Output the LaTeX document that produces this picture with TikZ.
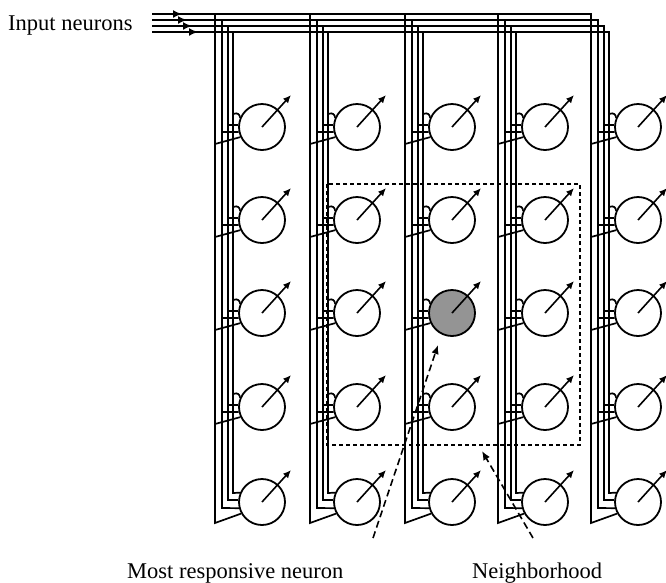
\documentclass[tikz,border=0pt]{standalone}
\usepackage{fontspec}
\setmainfont{Liberation Serif}
\usetikzlibrary{calc,arrows.meta}

\begin{document}
\begin{tikzpicture}[x=1pt,y=-1pt,
  wire/.style={line width=1.7pt},
  neuron/.style={circle,draw,line width=1.8pt,minimum size=46pt,inner sep=0pt},
  n33/.style={fill=black!42},
  outarrow/.style={line width=1.6pt,-{Latex[length=8pt,width=7pt]}},
  intip/.style={line width=1.7pt,-{Latex[length=9pt,width=8pt]}},
  marker/.style={line width=1.5pt,dash pattern=on 4pt off 3pt},
  markarrow/.style={line width=1.6pt,dash pattern=on 7pt off 4pt,-{Latex[length=9pt,width=7.5pt]}},
  lbl/.style={font=\fontsize{22.5}{26}\selectfont,anchor=base west,inner sep=0pt}
]
\useasboundingbox (0,0) rectangle (666,582);

% grid of output neurons: columns and rows
\foreach \c/\x in {1/262,2/357,3/452,4/545,5/638}
  \foreach \r/\y in {1/127,2/220,3/313,4/407,5/502}
    \node[neuron,n\c\r/.try] (n-\c-\r) at (\x,\y) {};

% output arrows of every neuron
\foreach \c in {1,...,5}
  \foreach \r in {1,...,5}
    \draw[outarrow] (n-\c-\r.center) -- ($(n-\c-\r.center)+(29,-32)$);

% four input lines: y position, offset of the drop line, bottom turn, entry angle, arrow tip
\foreach \i/\yy/\off/\turn/\ang/\tip in {1/14/-47/21/209/182, 2/20/-40/6/195/187, 3/26/-34/-2/175/192, 4/32/-29/-9/157/198}{
  \coordinate (in-\i) at (152,\yy);
  % main line running to the last column, then down into its bottom neuron
  \draw[wire] (in-\i) -| ($(n-5-5.center)+(\off,\turn)$) -- (n-5-5.\ang);
  \draw[intip] (in-\i) -- (\tip,\yy);
  % drop lines of the other columns
  \foreach \c in {1,...,4}
    \draw[wire] ($(n-\c-5.center |- in-\i)+(\off,0)$) -- ($(n-\c-5.center)+(\off,\turn)$) -- (n-\c-5.\ang);
}

% branches from the drop lines into the upper neurons
\foreach \c in {1,...,5}
  \foreach \r in {1,...,4}{
    \draw[wire] ($(n-\c-\r.center)+(-29,-13)$) .. controls ($(n-\c-\r.center)+(-24,-15)$) and ($(n-\c-\r.center)+(-22,-12)$) .. (n-\c-\r.157);
    \draw[wire] ($(n-\c-\r.center)+(-34,-2)$) -- (n-\c-\r.175);
    \draw[wire] ($(n-\c-\r.center)+(-40,5)$) -- (n-\c-\r.192);
    \draw[wire] ($(n-\c-\r.center)+(-47,17)$) -- (n-\c-\r.205);
  }

% neighborhood of the winning neuron
\draw[marker] (327,184) rectangle (580,445);

% labels with their pointers
\node[lbl] (inlbl) at (8,30) {Input neurons};
\node[lbl] (winlbl) at (127,578) {Most responsive neuron};
\node[lbl] (nbhlbl) at (472,578) {Neighborhood};
\coordinate (wintail) at (373,538);
\coordinate (nbhtail) at (533,538);
\draw[markarrow] (wintail) -- (438,345);
\draw[markarrow] (nbhtail) -- (482,451);
\end{tikzpicture}
\end{document}
